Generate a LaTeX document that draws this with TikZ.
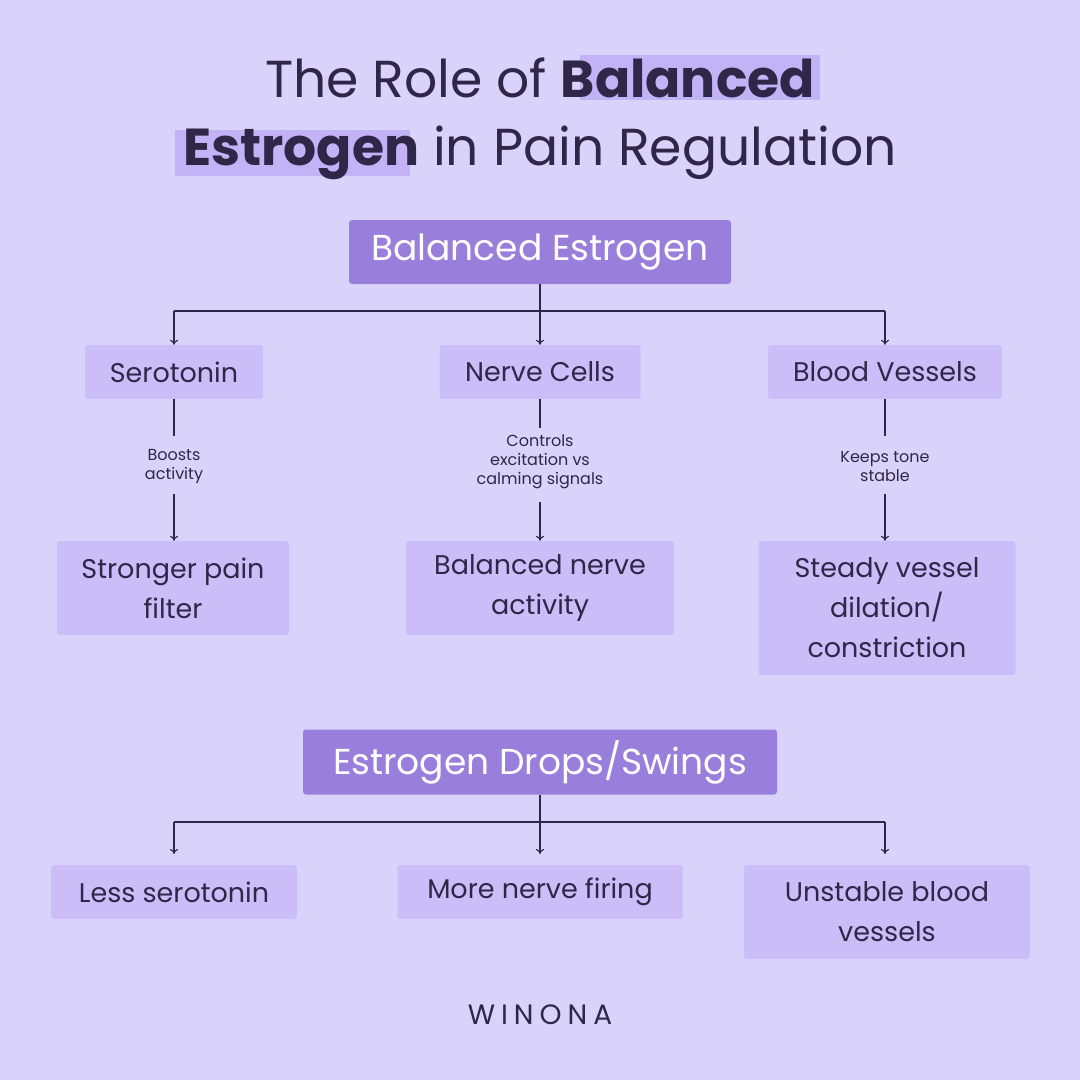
\documentclass[tikz,border=0pt]{standalone}
\usepackage{fontspec}
\setmainfont{Poppins}
\usetikzlibrary{arrows.meta}
\definecolor{bgc}{HTML}{D9D3FB}
\definecolor{headc}{HTML}{9A7EDC}
\definecolor{boxc}{HTML}{CABDF8}
\definecolor{hilc}{HTML}{C2B2F6}
\definecolor{inkc}{HTML}{2E2748}

\begin{document}
\begin{tikzpicture}[x=1pt,y=-1pt]
\tikzset{every node/.style={text=inkc, inner sep=0pt},
  head/.style={fill=headc, rounded corners=3pt, text=white, font=\fontsize{36}{40}\selectfont},
  box/.style={fill=boxc, rounded corners=3pt, align=center, font=\fontsize{27}{40}\selectfont},
  lab/.style={align=center, font=\fontsize{16}{19}\selectfont},
  link/.style={draw=inkc, line width=1.1pt},
  arr/.style={link, -{To[length=5pt,width=8pt]}}}

\fill[bgc] (0,0) rectangle (1080,1080);
\useasboundingbox (0,0) rectangle (1080,1080);

% title
\fill[hilc] (580,55) rectangle (820,100);
\fill[hilc] (175,130) rectangle (410,176);
\node[font=\fontsize{52}{60}\selectfont] (title1) at (540,78) {The Role of \textbf{Balanced}};
\node[font=\fontsize{52}{60}\selectfont] (title2) at (540,153) {\textbf{Estrogen} in Pain Regulation};

% balanced estrogen
\node[head, minimum width=382pt, minimum height=64pt] (bal) at (540,252) {Balanced Estrogen};
\coordinate (balj) at (540,311);
\coordinate (balL) at (174,311);
\coordinate (balR) at (885,311);
\node[box, minimum width=178pt, minimum height=54pt] (sero) at (174,372) {Serotonin};
\node[box, minimum width=201pt, minimum height=54pt] (nerve) at (540,372) {Nerve Cells};
\node[box, minimum width=234pt, minimum height=54pt] (blood) at (885,372) {Blood Vessels};
\draw[link] (bal) -- (balj);
\draw[link] (balL) -- (balR);
\draw[arr] (balj) -- (nerve);
\draw[arr] (balL) -- (sero);
\draw[arr] (balR) -- (blood);

\node[lab] (serolab) at (174,466) {Boosts\\activity};
\node[lab] (nervelab) at (540,462) {Controls\\excitation vs\\calming signals};
\node[lab] (bloodlab) at (885,466) {Keeps tone\\stable};
\coordinate (serotop) at (174,436);
\coordinate (serobot) at (174,494);
\coordinate (nervetop) at (540,428);
\coordinate (nervebot) at (540,502);
\coordinate (bloodtop) at (885,436);
\coordinate (bloodbot) at (885,494);

\node[box, minimum width=232pt, minimum height=94pt] (filter) at (173,588) {Stronger pain\\filter};
\node[box, minimum width=268pt, minimum height=94pt] (activity) at (540,588) {Balanced nerve\\activity};
\node[box, minimum width=257pt, minimum height=134pt] (vessel) at (887,608) {Steady vessel\\dilation/\\constriction};
\draw[link] (sero) -- (serotop);
\draw[link] (nerve) -- (nervetop);
\draw[link] (blood) -- (bloodtop);
\draw[arr] (serobot) -- (serobot |- filter.north);
\draw[arr] (nervebot) -- (nervebot |- activity.north);
\draw[arr] (bloodbot) -- (bloodbot |- vessel.north);

% drops / swings
\node[head, minimum width=474pt, minimum height=65pt] (drop) at (540,762) {Estrogen Drops/Swings};
\coordinate (dropj) at (540,822);
\coordinate (dropL) at (174,822);
\coordinate (dropR) at (885,822);
\node[box, minimum width=246pt, minimum height=54pt] (less) at (174,892) {Less serotonin};
\node[box, minimum width=285pt, minimum height=54pt] (firing) at (540,892) {More nerve firing};
\node[box, minimum width=286pt, minimum height=94pt] (unstable) at (887,912) {Unstable blood\\vessels};
\coordinate (lessend) at (174,854);
\coordinate (firingend) at (540,854);
\coordinate (unstableend) at (885,854);
\draw[link] (drop) -- (dropj);
\draw[link] (dropL) -- (dropR);
\draw[arr] (dropj) -- (firingend);
\draw[arr] (dropL) -- (lessend);
\draw[arr] (dropR) -- (unstableend);

\node[font=\fontsize{28}{30}\selectfont] (brand) at (540,1015) {W\hspace{6pt}I\hspace{6pt}N\hspace{6pt}O\hspace{6pt}N\hspace{6pt}A};
\end{tikzpicture}
\end{document}
